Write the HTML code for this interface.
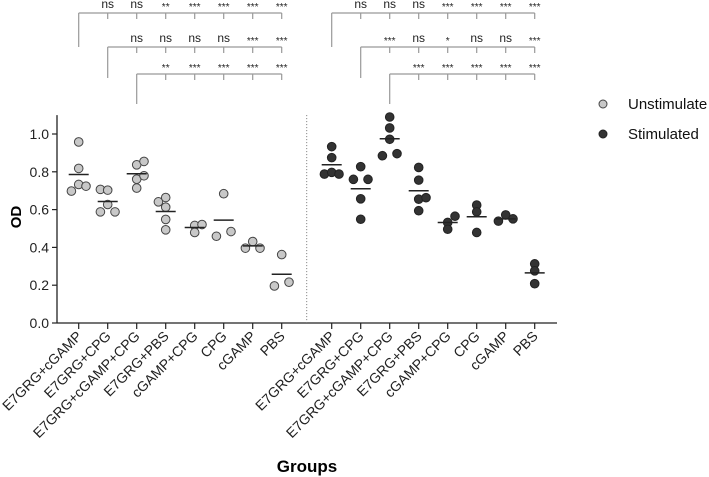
<!DOCTYPE html>
<html><head><meta charset="utf-8"><style>
html,body{margin:0;padding:0;background:#fff;}
svg{display:block;font-family:"Liberation Sans",Arial,sans-serif;}
</style></head><body>
<svg id="chart" width="709" height="477" viewBox="0 0 709 477" xmlns="http://www.w3.org/2000/svg">
<g id="axes"></g><g id="marks"></g><g id="sig"></g>
<text x="0" y="0" transform="translate(21,217) rotate(-90)" text-anchor="middle" font-size="15" font-weight="bold">OD</text>
<text x="307" y="472" text-anchor="middle" font-size="17" font-weight="bold">Groups</text>
<g>
<circle cx="603" cy="104" r="4" fill="#c8c8c8" stroke="#444" stroke-width="1"/>
<text x="628" y="109" font-size="15" fill="#111">Unstimulate</text>
<circle cx="603" cy="134" r="4" fill="#333" stroke="#222" stroke-width="1"/>
<text x="628" y="139" font-size="15" fill="#111">Stimulated</text>
</g>
</svg>
<script>
const categories = ["E7GRG+cGAMP","E7GRG+CPG","E7GRG+cGAMP+CPG","E7GRG+PBS","cGAMP+CPG","CPG","cGAMP","PBS"];
const unstimValues = [
 [0.958,0.818,0.698,0.733,0.724],
 [0.707,0.703,0.627,0.588,0.588],
 [0.837,0.855,0.761,0.779,0.714],
 [0.641,0.664,0.613,0.548,0.493],
 [0.516,0.521,0.479],
 [0.459,0.684,0.484],
 [0.396,0.431,0.396],
 [0.196,0.362,0.216]];
const stimValues = [
 [0.933,0.875,0.788,0.797,0.788],
 [0.827,0.76,0.76,0.657,0.549],
 [1.09,1.032,0.972,0.885,0.896],
 [0.823,0.756,0.655,0.663,0.594],
 [0.565,0.532,0.496],
 [0.624,0.588,0.479],
 [0.539,0.572,0.551],
 [0.313,0.276,0.208]];
const unstimMeans = [0.786,0.643,0.79,0.59,0.505,0.544,0.408,0.258];
const stimMeans = [0.837,0.71,0.975,0.70,0.532,0.562,0.551,0.265];
// scatter slot (-1 left, 0 centre, 1 right) for each point
const unstimSlots = [[0,0,-1,0,1],[-1,0,0,-1,1],[0,1,0,1,0],[-1,0,0,0,0],[0,1,0],[-1,0,1],[-1,0,1],[-1,0,1]];
const stimSlots = [[0,0,-1,0,1],[0,-1,1,0,0],[0,0,0,-1,1],[0,0,0,1,0],[1,0,0],[0,0,0],[-1,0,1],[0,0,0]];
const yTicks = [0.0,0.2,0.4,0.6,0.8,1.0];
const sigUnstim = [
 ["ns","ns","**","***","***","***","***"],
 ["ns","ns","ns","ns","***","***"],
 ["**","***","***","***","***"]];
const sigStim = [
 ["ns","ns","ns","***","***","***","***"],
 ["***","ns","*","ns","ns","***"],
 ["***","***","***","***","***"]];

const NS="http://www.w3.org/2000/svg";
function y(v){return 323-v*189;}
function x(panel,i){return (panel===0?78.7:331.7)+29*i;}
function mk(tag,attrs,parent){const e=document.createElementNS(NS,tag);for(const k in attrs)e.setAttribute(k,attrs[k]);parent.appendChild(e);return e;}
const axes=document.getElementById('axes'),marks=document.getElementById('marks'),sig=document.getElementById('sig');

let a=mk('line',{x1:57,y1:y(1.1),x2:57,y2:323,stroke:'#222','stroke-width':1.3},axes);


a=mk('line',{x1:57,y1:323,x2:557,y2:323,stroke:'#222','stroke-width':1.3},axes);


a=mk('line',{x1:306.7,y1:y(1.1),x2:306.7,y2:323,stroke:'#777','stroke-width':1,'stroke-dasharray':'1,2'},axes);


yTicks.forEach(t=>{
 const l=mk('line',{x1:52,y1:y(t),x2:57,y2:y(t),stroke:'#222','stroke-width':1.2},axes);
 
 
 const tx=mk('text',{x:49,y:y(t)+5,'text-anchor':'end','font-size':14,fill:'#222'},axes);
 tx.textContent=t.toFixed(1);
 
 
});
[0,1].forEach(p=>{
 categories.forEach((c,i)=>{
  const cx=x(p,i);
  const l=mk('line',{x1:cx,y1:323,x2:cx,y2:329,stroke:'#222','stroke-width':1.2},axes);
  
  
  const tx=mk('text',{x:0,y:0,'text-anchor':'end','font-size':14,fill:'#222',transform:`translate(${cx+4},${337}) rotate(-45)`},axes);
  tx.textContent=c;
  
  
 });
});
function drawPanel(p,vals,means,slots,fill,stroke){
 vals.forEach((arr,i)=>{
  const cx=x(p,i);
  arr.forEach((v,j)=>{
   const dx=slots[i][j]*7.3;
   const c=mk('circle',{cx:cx+dx,cy:y(v),r:4.3,fill:fill,stroke:stroke,'stroke-width':1},marks);
   
   
  });
  const m=mk('line',{x1:cx-10,y1:y(means[i]),x2:cx+10,y2:y(means[i]),stroke:'#222','stroke-width':1.5},marks);
  
  
 });
}
drawPanel(0,unstimValues,unstimMeans,unstimSlots,'#c8c8c8','#444');
drawPanel(1,stimValues,stimMeans,stimSlots,'#333','#222');

const rowY=[13,47,74], rowBottom=[47,78,104];
function drawSig(p,rows){
 rows.forEach((labels,r)=>{
  const start=r, ly=rowY[r];
  const x0=x(p,start), x1=x(p,7);
  mk('line',{x1:x0,y1:ly,x2:x1,y2:ly,stroke:'#999','stroke-width':1.2},sig);
  mk('line',{x1:x0,y1:ly,x2:x0,y2:rowBottom[r],stroke:'#999','stroke-width':1.2},sig);
  labels.forEach((lab,k)=>{
   const cx=x(p,start+1+k);
   const t=mk('line',{x1:cx,y1:ly,x2:cx,y2:ly+6,stroke:'#999','stroke-width':1.2},sig);
   
   
   const tx=mk('text',{x:cx,y:ly-(lab==='ns'?5:3),'text-anchor':'middle','font-size':lab==='ns'?12:10,fill:'#222'},sig);
   tx.textContent=lab;
   
   
  });
 });
}
drawSig(0,sigUnstim);
drawSig(1,sigStim);
</script>
</body></html>
